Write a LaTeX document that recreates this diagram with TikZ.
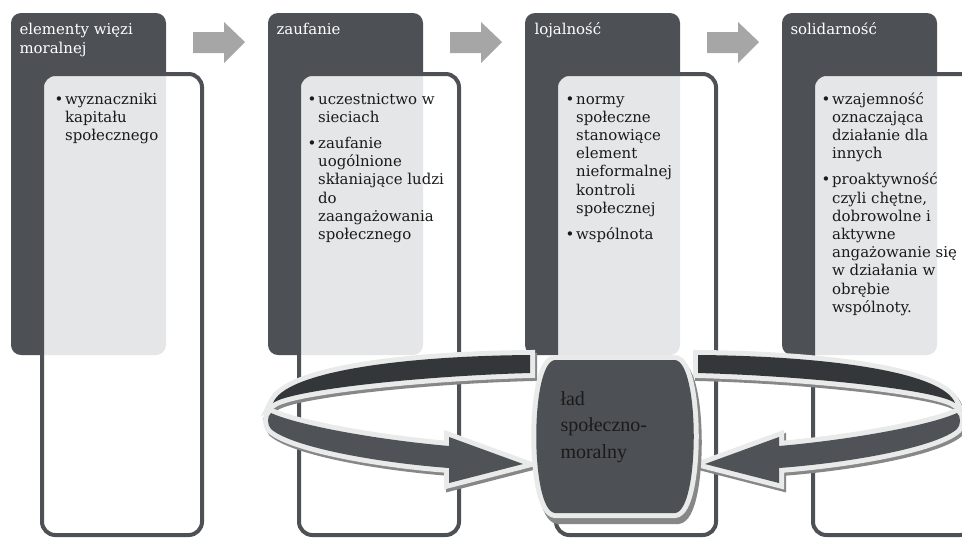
\documentclass[tikz,border=0pt]{standalone}
\usepackage{fontspec}
\setmainfont{DejaVu Serif}
\newfontfamily\ladfont{Liberation Serif}

\definecolor{slate}{RGB}{77,81,85}
\definecolor{bandtop}{RGB}{52,55,58}
\definecolor{bandlow}{RGB}{79,82,86}
\definecolor{rim}{RGB}{233,234,234}
\definecolor{shade}{RGB}{135,135,135}
\definecolor{stepgray}{RGB}{166,166,166}
\definecolor{ink}{RGB}{26,26,26}

\tikzset{every picture/.style={line width=0.75pt}}
\tikzset{
  darkcol/.style={fill=slate, rounded corners=7.5pt},
  listbox/.style={draw=slate, line width=3pt, fill=white, fill opacity=0.86, rounded corners=10pt},
  nextarrow/.style={fill=stepgray},
  headtext/.style={anchor=base west, inner sep=0pt, text=white, font=\fontsize{11.2}{14.25}\selectfont},
  listtext/.style={anchor=base west, inner sep=0pt, text=ink, font=\fontsize{11.2}{13.65}\selectfont},
  ringband/.style={line join=round,
    preaction={fill=shade, draw=shade, line width=7.5pt, transform canvas={xshift=1.5pt, yshift=-2.25pt}},
    preaction={draw=rim, line width=7.5pt}},
  ladshape/.style={fill=slate, line join=round,
    preaction={fill=shade, draw=shade, line width=7.5pt, transform canvas={xshift=2.25pt, yshift=-4.5pt}},
    preaction={draw=rim, line width=7.5pt}},
  ladtext/.style={anchor=base west, inner sep=0pt, text=ink, font=\ladfont\fontsize{15}{19.9}\selectfont},
}
\newcommand{\bul}{\makebox[8pt][l]{•}}

\begin{document}
\begin{tikzpicture}[x=0.75pt,y=0.75pt,yscale=-1,xscale=1]
\useasboundingbox (0,0) rectangle (962,537);
\clip (0,0) rectangle (962,537);

%Shape: Column 1
\path [darkcol] (11,13) rectangle (166,355);
\path [listbox] (42,74) rectangle (202,535);
%Shape: Column 2
\path [darkcol] (268,13) rectangle (423,355);
\path [listbox] (299,74) rectangle (459,535);
%Shape: Column 3
\path [darkcol] (525,13) rectangle (680,355);
\path [listbox] (556,74) rectangle (716,535);
%Shape: Column 4
\path [darkcol] (782,13) rectangle (937,355);
\path [listbox] (813,74) rectangle (973,535);

%Shape: Right Arrow
\path [nextarrow] (193,32) -- (224,32) -- (224,22) -- (245,42) -- (224,63) -- (224,53) -- (193,53) -- cycle;
%Shape: Right Arrow
\path [nextarrow] (450,32) -- (481,32) -- (481,22) -- (502,42) -- (481,63) -- (481,53) -- (450,53) -- cycle;
%Shape: Right Arrow
\path [nextarrow] (707,32) -- (738,32) -- (738,22) -- (759,42) -- (738,63) -- (738,53) -- (707,53) -- cycle;

% Text Node
\node (elem) [headtext] at (19,34) {\begin{tabular}[t]{@{}l@{}}elementy więzi\\moralnej\end{tabular}};
% Text Node
\node (zauf) [headtext] at (276,34) {zaufanie};
% Text Node
\node (lojal) [headtext] at (534,34) {lojalność};
% Text Node
\node (solid) [headtext] at (790,34) {solidarność};

% Text Node
\node (elemlist) [listtext] at (54,104) {\begin{tabular}[t]{@{}l@{}l@{}}
\bul & wyznaczniki\\ & kapitału\\ & społecznego\end{tabular}};
% Text Node
\node (zauflist) [listtext] at (307,104) {\begin{tabular}[t]{@{}l@{}l@{}}
\bul & uczestnictwo w\\ & sieciach\\[6pt]
\bul & zaufanie\\ & uogólnione\\ & skłaniające ludzi\\ & do\\ & zaangażowania\\ & społecznego\end{tabular}};
% Text Node
\node (lojallist) [listtext] at (565,104) {\begin{tabular}[t]{@{}l@{}l@{}}
\bul & normy\\ & społeczne\\ & stanowiące\\ & element\\ & nieformalnej\\ & kontroli\\ & społecznej\\[6pt]
\bul & wspólnota\end{tabular}};
% Text Node
\node (solidlist) [listtext] at (821,104) {\begin{tabular}[t]{@{}l@{}l@{}}
\bul & wzajemność\\ & oznaczająca\\ & działanie dla\\ & innych\\[6pt]
\bul & proaktywność\\ & czyli chętne,\\ & dobrowolne i\\ & aktywne\\ & angażowanie się\\ & w działania w\\ & obrębie\\ & wspólnoty.\end{tabular}};

%Shape: Circular Arrow, left half
\path [ringband, fill=bandtop] (530,355) .. controls (400,356) and (285,372) .. (273,403) .. controls (290,390) and (420,376) .. (530,373) -- cycle;
\path [ringband, fill=bandlow] (271,413) .. controls (300,426) and (380,440) .. (449,446) -- (449,437) -- (523,464) -- (449,483) -- (449,468) .. controls (370,462) and (290,446) .. (271,429) .. controls (267,425) and (267,416) .. (271,413) -- cycle;
%Shape: Circular Arrow, right half
\begin{scope}[shift={(1228,0)}, xscale=-1]
\path [ringband, fill=bandtop] (530,355) .. controls (400,356) and (285,372) .. (273,403) .. controls (290,390) and (420,376) .. (530,373) -- cycle;
\path [ringband, fill=bandlow] (271,413) .. controls (300,426) and (380,440) .. (449,446) -- (449,437) -- (523,464) -- (449,483) -- (449,468) .. controls (370,462) and (290,446) .. (271,429) .. controls (267,425) and (267,416) .. (271,413) -- cycle;
\end{scope}

%Shape: Centre
\path [ladshape] (555,360) -- (675,360) .. controls (700,362) and (700,511) .. (675,513) -- (555,513) .. controls (530,511) and (530,362) .. (555,360) -- cycle;
% Text Node
\node (lad) [ladtext] at (560,405) {\begin{tabular}[t]{@{}l@{}}ład\\społeczno-\\moralny\end{tabular}};

\end{tikzpicture}
\end{document}
